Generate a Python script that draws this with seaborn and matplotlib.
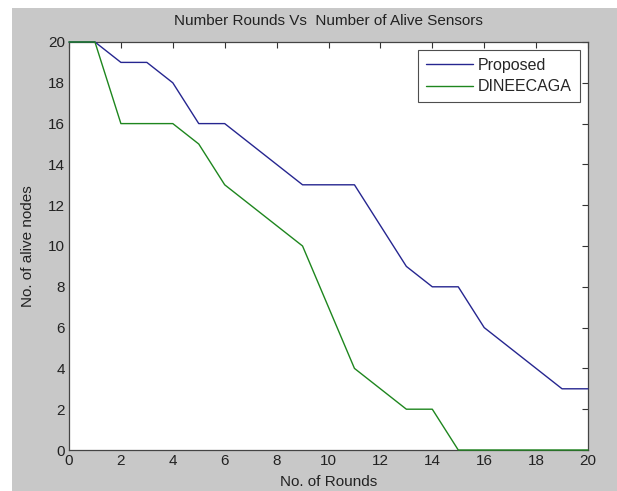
import numpy as np
import pandas as pd
import matplotlib
matplotlib.use("Agg")
import matplotlib.pyplot as plt
import seaborn as sns

rounds = list(range(21))
proposed = [20, 20, 19, 19, 18, 16, 16, 15, 14, 13, 13, 13, 11, 9, 8, 8, 6, 5, 4, 3, 3]
dineecaga = [20, 20, 16, 16, 16, 15, 13, 12, 11, 10, 7, 4, 3, 2, 2, 0, 0, 0, 0, 0, 0]

df = pd.DataFrame({
    "round": rounds * 2,
    "alive": proposed + dineecaga,
    "method": ["Proposed"] * len(rounds) + ["DINEECAGA"] * len(rounds),
})

sns.set_style("white")
plt.rcParams["font.family"] = ["Liberation Sans", "DejaVu Sans"]

fig = plt.figure(figsize=(6.17, 4.91), dpi=100)
fig.patch.set_facecolor("white")
# grey figure area (white strip at top and left in the source image)
bg = fig.add_axes([12 / 617, 0, 1 - 12 / 617, 1 - 8 / 491])
bg.set_facecolor("#c8c8c8")
bg.set_xticks([])
bg.set_yticks([])
for s in bg.spines.values():
    s.set_visible(False)
bg.set_zorder(0)

ax = fig.add_axes([69 / 617, 1 - 450 / 491, (588 - 69) / 617, (450 - 42) / 491])
ax.set_zorder(1)
ax.set_facecolor("white")

sns.lineplot(data=df, x="round", y="alive", hue="method",
             palette={"Proposed": "#262690", "DINEECAGA": "#1e861e"},
             linewidth=1.0, ax=ax)
for line in ax.lines:
    line.set_clip_on(False)
    line.set_zorder(3)

ax.set_xlim(0, 20)
ax.set_ylim(0, 20)
ax.set_xticks(np.arange(0, 21, 2))
ax.set_yticks(np.arange(0, 21, 2))
ax.tick_params(direction="in", length=4, width=0.8, top=True, right=True,
               labeltop=False, labelright=False, colors="#333333",
               labelcolor="#222222", labelsize=11, pad=3)
for s in ax.spines.values():
    s.set_color("#444444")
    s.set_linewidth(0.9)

ax.set_title("Number Rounds Vs  Number of Alive Sensors", fontsize=11, color="#222222", pad=12)
ax.set_xlabel("No. of Rounds", fontsize=11, color="#222222", labelpad=5)
ax.set_ylabel("No. of alive nodes", fontsize=11, color="#222222", labelpad=9)

leg = ax.legend(title=None, loc="upper right", fontsize=11.5, frameon=True,
                fancybox=False, edgecolor="#222222", borderaxespad=0.5,
                handlelength=2.9, handletextpad=0.35, borderpad=0.5,
                labelspacing=0.4)
leg.get_frame().set_linewidth(0.8)
leg.set_zorder(5)

fig.savefig("out.png", dpi=100, facecolor=fig.get_facecolor())
